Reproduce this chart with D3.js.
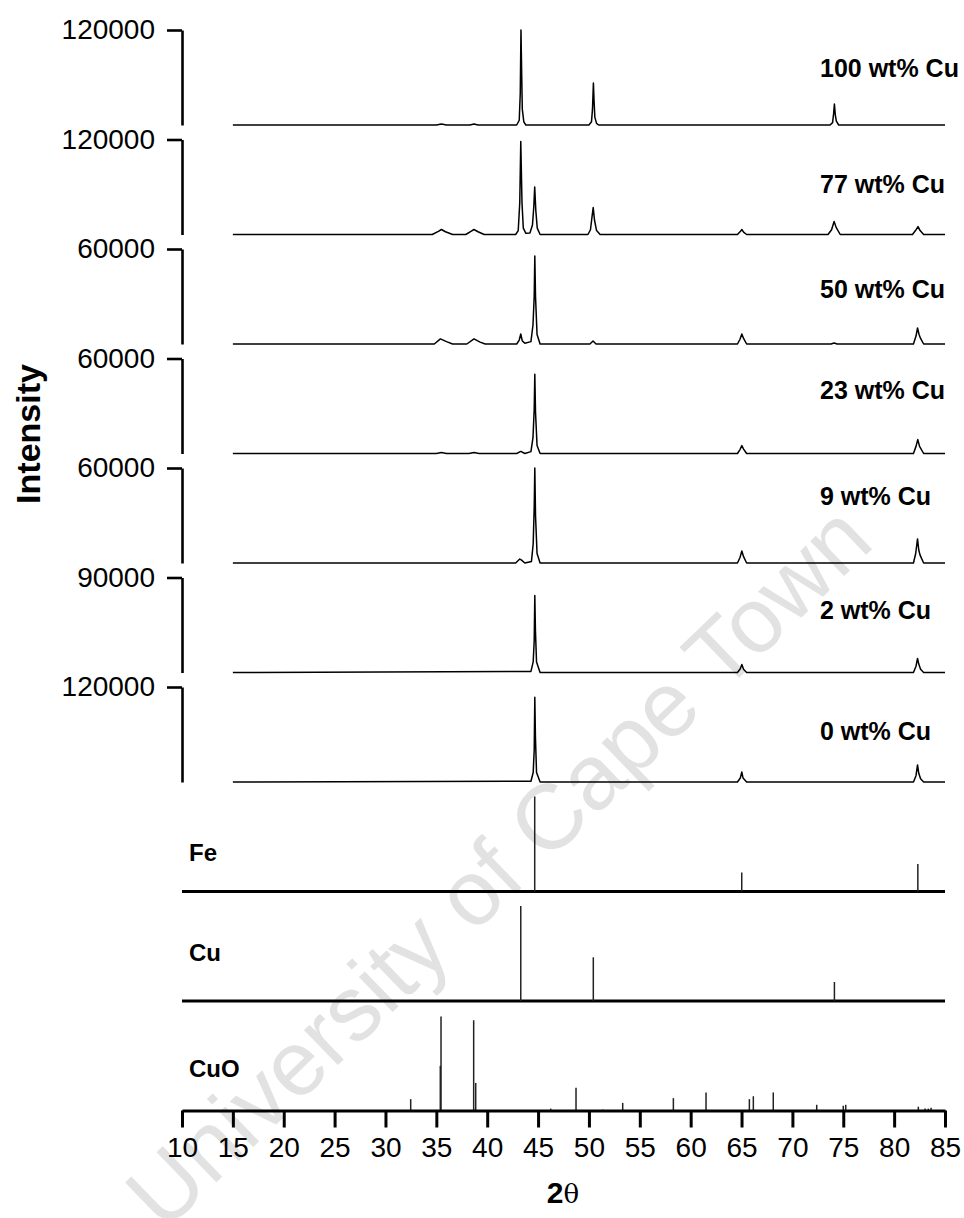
<!DOCTYPE html>
<html>
<head>
<meta charset="utf-8">
<script src="https://cdn.jsdelivr.net/npm/d3@7"></script>
<style>
  html, body { margin: 0; padding: 0; background: #fff; }
  svg { display: block; }
  text { font-family: "Liberation Sans", Arial, Helvetica, sans-serif; fill: #000; }
</style>
</head>
<body>
<svg id="chart" width="964" height="1218"></svg>
<script>
// ---- Sample patterns: [2θ, intensity] points, top panel first ----
const sampleNames = ["100 wt% Cu", "77 wt% Cu", "50 wt% Cu", "23 wt% Cu", "9 wt% Cu", "2 wt% Cu", "0 wt% Cu"];
const sampleMax = [120000, 120000, 60000, 60000, 60000, 90000, 120000];

const cu100 = [[15,0],[35.0,0],[35.5,1200],[36.0,0],[38.3,0],[38.7,1200],[39.1,0],
  [42.9,0],[43.15,6000],[43.25,40000],[43.32,120000],[43.38,72000],[43.45,20000],[43.6,4000],[43.8,0],
  [50.0,0],[50.25,4000],[50.35,20000],[50.44,53000],[50.5,31600],[50.58,10000],[50.75,2000],[50.95,0],
  [73.7,0],[73.95,3000],[74.05,14000],[74.13,26500],[74.22,12600],[74.32,5000],[74.55,0],[85,0]];

const cu77 = [[15,0],[34.6,0],[35.2,4000],[35.5,6300],[35.9,3500],[36.6,0],[37.9,0],[38.4,4000],[38.7,6300],[39.1,3500],[39.7,0],
  [42.8,0],[43.05,5000],[43.2,40000],[43.3,117500],[43.42,40000],[43.55,8000],[43.8,1500],
  [44.2,2000],[44.45,12000],[44.58,35000],[44.67,60000],[44.78,30000],[44.92,8000],[45.2,0],
  [49.9,0],[50.15,6000],[50.3,22000],[50.42,34000],[50.55,18000],[50.75,5000],[51.1,0],
  [64.6,0],[64.9,4000],[65.03,6300],[65.2,3000],[65.5,0],
  [73.5,0],[73.85,6000],[74.1,16400],[74.3,9000],[74.7,0],
  [81.8,0],[82.1,5000],[82.35,10000],[82.55,5000],[82.9,0],[85,0]];

const cu50 = [[15,0],[34.8,0],[35.4,3200],[36.0,1500],[36.6,0],[38.0,0],[38.7,3200],[39.3,1200],[39.8,0],
  [42.9,0],[43.15,2500],[43.3,6300],[43.45,2000],[43.7,500],
  [44.3,1500],[44.5,12000],[44.62,30000],[44.68,55600],[44.75,30000],[44.9,6000],[45.2,0],
  [50.1,0],[50.4,1900],[50.7,0],
  [64.6,0],[64.85,3000],[65.03,6300],[65.2,3500],[65.5,0],
  [73.8,0],[74.1,600],[74.4,0],
  [81.9,0],[82.15,5000],[82.3,10100],[82.45,6000],[82.6,3500],[82.9,0],[85,0]];

const cu23 = [[15,0],[35.0,0],[35.5,600],[36.0,0],[38.2,0],[38.7,600],[39.2,0],[42.9,0],[43.3,1300],[43.7,0],
  [44.3,1200],[44.5,10000],[44.62,28000],[44.68,50000],[44.75,26000],[44.9,5000],[45.2,0],
  [64.6,0],[64.85,2500],[65.03,5000],[65.2,2800],[65.5,0],
  [81.9,0],[82.15,4500],[82.32,8800],[82.5,4500],[82.9,0],[85,0]];

const cu9 = [[15,0],[42.8,0],[43.2,2500],[43.35,2000],[43.7,0],
  [44.35,1000],[44.52,12000],[44.62,35000],[44.68,60000],[44.75,30000],[44.9,6000],[45.2,0],
  [64.6,0],[64.85,3500],[65.03,7600],[65.2,4000],[65.5,0],
  [81.9,0],[82.12,6000],[82.3,15200],[82.42,8200],[82.55,5000],[82.9,0],[85,0]];

const cu2 = [[15,0],[44.3,1000],[44.52,10000],[44.62,30000],[44.68,73000],[44.74,40000],[44.85,10000],[45.2,0],
  [64.6,0],[64.88,3500],[65.03,7600],[65.2,3000],[65.5,0],
  [81.9,0],[82.15,6000],[82.3,13300],[82.42,8000],[82.6,3000],[82.9,0],[85,0]];

const cu0 = [[15,0],[44.3,1000],[44.52,12000],[44.62,40000],[44.68,107000],[44.74,57000],[44.85,12000],[45.2,0],
  [64.6,0],[64.88,5000],[65.03,12600],[65.15,5000],[65.5,0],
  [81.9,0],[82.15,8000],[82.3,21500],[82.42,11000],[82.6,4000],[82.9,0],[85,0]];

const samplePatterns = [cu100, cu77, cu50, cu23, cu9, cu2, cu0];

// ---- Reference stick patterns: [2θ, relative intensity %] ----
const refNames = ["Fe", "Cu", "CuO"];
const feSticks = [[44.67,100],[65.02,20],[82.33,29]];
const cuSticks = [[43.30,100],[50.43,46],[74.13,20]];
const cuoSticks = [[32.48,12],[35.39,47],[35.46,99],[38.67,95],[38.87,29],[46.24,2],[48.73,24],[51.35,1],
  [53.32,8],[58.30,13],[61.51,19],[65.77,12],[66.16,15],[68.12,19],[72.39,6],[75.00,5],[75.24,6],
  [82.38,4],[83.04,2],[83.36,2],[83.63,3]];
const refPatterns = [feSticks, cuSticks, cuoSticks];

const xTicks = [10, 15, 20, 25, 30, 35, 40, 45, 50, 55, 60, 65, 70, 75, 80, 85];

// ---- Layout ----
const svg = d3.select("#chart");
const xLeft = 182, xRight = 945;
const firstBase = 125, rowStep = 109.5, rowHeight = 95;
const rowBase = i => firstBase + rowStep * i;
const sampleLabelX = 820;
const sampleLabelDy = [-48, -42, -46, -55, -58, -54, -42];
const refLabelDy = [-31, -40, -34];

const x = d3.scaleLinear().domain([10, 85]).range([xLeft, xRight]);

// watermark
svg.append("text")
  .attr("transform", "translate(498,866) rotate(-44)")
  .attr("text-anchor", "middle")
  .attr("dominant-baseline", "central")
  .style("font-size", "92px")
  .style("fill", "#e2e2e2")
  .text("University of Cape Town");

// ---- Sample panels ----
samplePatterns.forEach((pts, i) => {
  const base = rowBase(i);
  const y = d3.scaleLinear().domain([0, sampleMax[i]]).range([base, base - rowHeight]);

  const ax = svg.append("g")
    .attr("transform", `translate(${xLeft},0)`)
    .call(d3.axisLeft(y).tickValues([sampleMax[i]]).tickSize(15).tickSizeOuter(0)
      .tickPadding(12).tickFormat(d3.format("d")));
  ax.select(".domain").attr("stroke", "#000").attr("stroke-width", 2.6);
  ax.selectAll(".tick line").attr("stroke", "#000").attr("stroke-width", 2.6);
  ax.selectAll(".tick text").style("font-size", "28px").style("font-family", "Liberation Sans, Arial, sans-serif");

  const line = d3.line().x(d => x(d[0])).y(d => y(d[1]));
  svg.append("path")
    .datum(pts)
    .attr("d", line)
    .attr("fill", "none")
    .attr("stroke", "#000")
    .attr("stroke-width", 1.5)
    .attr("stroke-linejoin", "round");

  svg.append("text")
    .attr("x", sampleLabelX)
    .attr("y", base + sampleLabelDy[i])
    .style("font-size", "25px")
    .style("font-weight", "bold")
    .text(sampleNames[i]);
});

// ---- Reference stick panels ----
refPatterns.forEach((sticks, j) => {
  const row = samplePatterns.length + j;
  const base = rowBase(row);
  const y = d3.scaleLinear().domain([0, 100]).range([base, base - rowHeight]);

  if (j < refPatterns.length - 1) {
    svg.append("line")
      .attr("x1", x(10)).attr("x2", x(85))
      .attr("y1", base).attr("y2", base)
      .attr("stroke", "#000").attr("stroke-width", 3);
  }

  svg.append("g").selectAll("line")
    .data(sticks)
    .join("line")
    .attr("x1", d => x(d[0])).attr("x2", d => x(d[0]))
    .attr("y1", base).attr("y2", d => y(d[1]))
    .attr("stroke", "#222")
    .attr("stroke-width", 1.5);

  svg.append("text")
    .attr("x", 189)
    .attr("y", base + refLabelDy[j])
    .style("font-size", "24px")
    .style("font-weight", "bold")
    .text(refNames[j]);
});

// ---- Bottom 2θ axis ----
const axisY = rowBase(samplePatterns.length + refPatterns.length - 1);
const xa = svg.append("g")
  .attr("transform", `translate(0,${axisY})`)
  .call(d3.axisBottom(x).tickValues(xTicks).tickSize(17).tickSizeOuter(0).tickPadding(10).tickFormat(d3.format("d")));
xa.select(".domain").attr("stroke", "#000").attr("stroke-width", 3);
xa.selectAll(".tick line").attr("stroke", "#000").attr("stroke-width", 3);
xa.selectAll(".tick text").style("font-size", "28px").style("font-family", "Liberation Sans, Arial, sans-serif");

// axis titles
const xt = svg.append("text")
  .attr("x", 563)
  .attr("y", 1203)
  .attr("text-anchor", "middle")
  .style("font-size", "30px");
xt.append("tspan").style("font-weight", "bold").text("2");
xt.append("tspan").style("font-family", "DejaVu Serif, serif").style("font-size", "26px").text("θ");

svg.append("text")
  .attr("transform", "translate(40,434) rotate(-90)")
  .attr("text-anchor", "middle")
  .style("font-size", "34px")
  .style("font-weight", "bold")
  .text("Intensity");
</script>
</body>
</html>
